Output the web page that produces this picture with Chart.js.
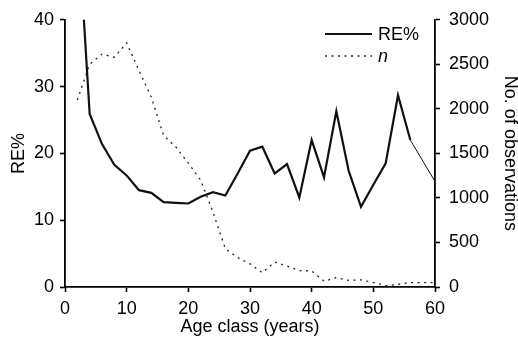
<!DOCTYPE html>
<html>
<head>
<meta charset="utf-8">
<script src="https://cdn.jsdelivr.net/npm/chart.js@4/dist/chart.umd.min.js"></script>
<style>
  html, body { margin: 0; padding: 0; background: #fff; }
  #wrap { width: 518px; height: 340px; }
</style>
</head>
<body>
<div id="wrap"><canvas id="chart" width="518" height="340"></canvas></div>
<script>
// age classes (years)
const ages = [2, 4, 6, 8, 10, 12, 14, 16, 18, 20, 22, 24, 26, 28, 30,
              32, 34, 36, 38, 40, 42, 44, 46, 48, 50, 52, 54, 56, 58, 60];
// relative error, % (age 2 runs off the top; no value at 58)
const rePct = [56, 25.9, 21.4, 18.3, 16.7, 14.5, 14.1, 12.7, 12.6, 12.5, 13.5, 14.2, 13.7, 17.0, 20.4,
               21.0, 17.0, 18.4, 13.4, 22.0, 16.4, 26.3, 17.4, 12.0, 15.3, 18.5, 28.7, 22.0, null, 15.8];
// number of observations
const nObs = [2100, 2500, 2615, 2580, 2740, 2430, 2130, 1700, 1570, 1390, 1200, 840, 430, 330, 260,
              160, 280, 235, 185, 180, 65, 105, 75, 80, 50, 15, 30, 50, 50, 50];

const xTicks = [0, 10, 20, 30, 40, 50, 60];
const reTicks = [0, 10, 20, 30, 40];
const nTicks = [0, 500, 1000, 1500, 2000, 2500, 3000];

const FONT = '"Liberation Sans", Arial, Helvetica, sans-serif';

const toPoints = (vals) => ages.map((a, i) => ({ x: a, y: vals[i] }));

// thin bridge across the missing age class: the points on each side of a null
const bridgePoints = () => {
  const pts = ages.map(() => null);
  rePct.forEach((v, i) => {
    if (v === null && i > 0 && i < rePct.length - 1) {
      pts[i - 1] = rePct[i - 1];
      pts[i + 1] = rePct[i + 1];
    }
  });
  return toPoints(pts);
};

// legend in the upper right corner, drawn from the datasets
const cornerLegend = {
  id: 'cornerLegend',
  afterDraw(chart) {
    const ctx = chart.ctx;
    chart.data.datasets.filter((ds) => !ds.hideInLegend).forEach((ds, i) => {
      const y = 34 + i * 22;
      ctx.save();
      ctx.strokeStyle = ds.borderColor;
      ctx.lineWidth = ds.borderWidth;
      ctx.setLineDash(ds.borderDash || []);
      ctx.beginPath();
      ctx.moveTo(325, y);
      ctx.lineTo(372, y);
      ctx.stroke();
      ctx.setLineDash([]);
      ctx.fillStyle = '#000';
      ctx.font = (ds.italicLabel ? 'italic ' : '') + '18px ' + FONT;
      ctx.textBaseline = 'middle';
      ctx.fillText(ds.label, 378, y + 1);
      ctx.restore();
    });
  }
};

const axisStyle = {
  grid: { drawOnChartArea: false, drawTicks: true, tickLength: 5, color: '#000', tickWidth: 1.6 },
  border: { display: true, color: '#000', width: 1.8 },
};

new Chart(document.getElementById('chart'), {
  type: 'line',
  data: {
    datasets: [
      {
        label: 'RE%',
        data: toPoints(rePct),
        yAxisID: 'y',
        borderColor: '#111',
        borderWidth: 2.2,
        pointRadius: 0,
        tension: 0,
        spanGaps: false,
      },
      {
        label: 'n',
        italicLabel: true,
        data: toPoints(nObs),
        yAxisID: 'y1',
        borderColor: '#222',
        borderWidth: 1.3,
        borderDash: [2, 4.5],
        pointRadius: 0,
        tension: 0,
      },
      {
        label: 'RE% gap',
        hideInLegend: true,
        data: bridgePoints(),
        yAxisID: 'y',
        borderColor: '#111',
        borderWidth: 1,
        pointRadius: 0,
        tension: 0,
        spanGaps: true,
      },
    ],
  },
  options: {
    responsive: false,
    animation: false,
    layout: { padding: { top: 19 } },
    plugins: { legend: { display: false }, tooltip: { enabled: false } },
    scales: {
      x: {
        type: 'linear',
        min: 0,
        max: 60,
        ...axisStyle,
        afterFit: (s) => { s.height = 53; },
        afterBuildTicks: (s) => { s.ticks = xTicks.map((v) => ({ value: v })); },
        ticks: { color: '#000', font: { family: FONT, size: 18 }, padding: 6, maxRotation: 0,
                 callback: (v) => String(v) },
        title: { display: true, text: 'Age class (years)', color: '#000',
                 font: { family: FONT, size: 18 }, padding: { top: 0, bottom: 2 } },
      },
      y: {
        position: 'left',
        min: 0,
        max: 40,
        ...axisStyle,
        afterFit: (s) => { s.width = 65; },
        afterBuildTicks: (s) => { s.ticks = reTicks.map((v) => ({ value: v })); },
        ticks: { color: '#000', font: { family: FONT, size: 18 }, padding: 6,
                 callback: (v) => String(v) },
        title: { display: true, text: 'RE%', color: '#000',
                 font: { family: FONT, size: 18 }, padding: { top: 8, bottom: 0 } },
      },
      y1: {
        position: 'right',
        min: 0,
        max: 3000,
        ...axisStyle,
        afterFit: (s) => { s.width = 83; },
        afterBuildTicks: (s) => { s.ticks = nTicks.map((v) => ({ value: v })); },
        ticks: { color: '#000', font: { family: FONT, size: 18 }, padding: 9,
                 callback: (v) => String(v) },
        title: { display: true, text: 'No. of observations', color: '#000',
                 font: { family: FONT, size: 18 }, padding: { top: -3, bottom: 0 } },
      },
    },
  },
  plugins: [cornerLegend],
});
</script>
</body>
</html>
